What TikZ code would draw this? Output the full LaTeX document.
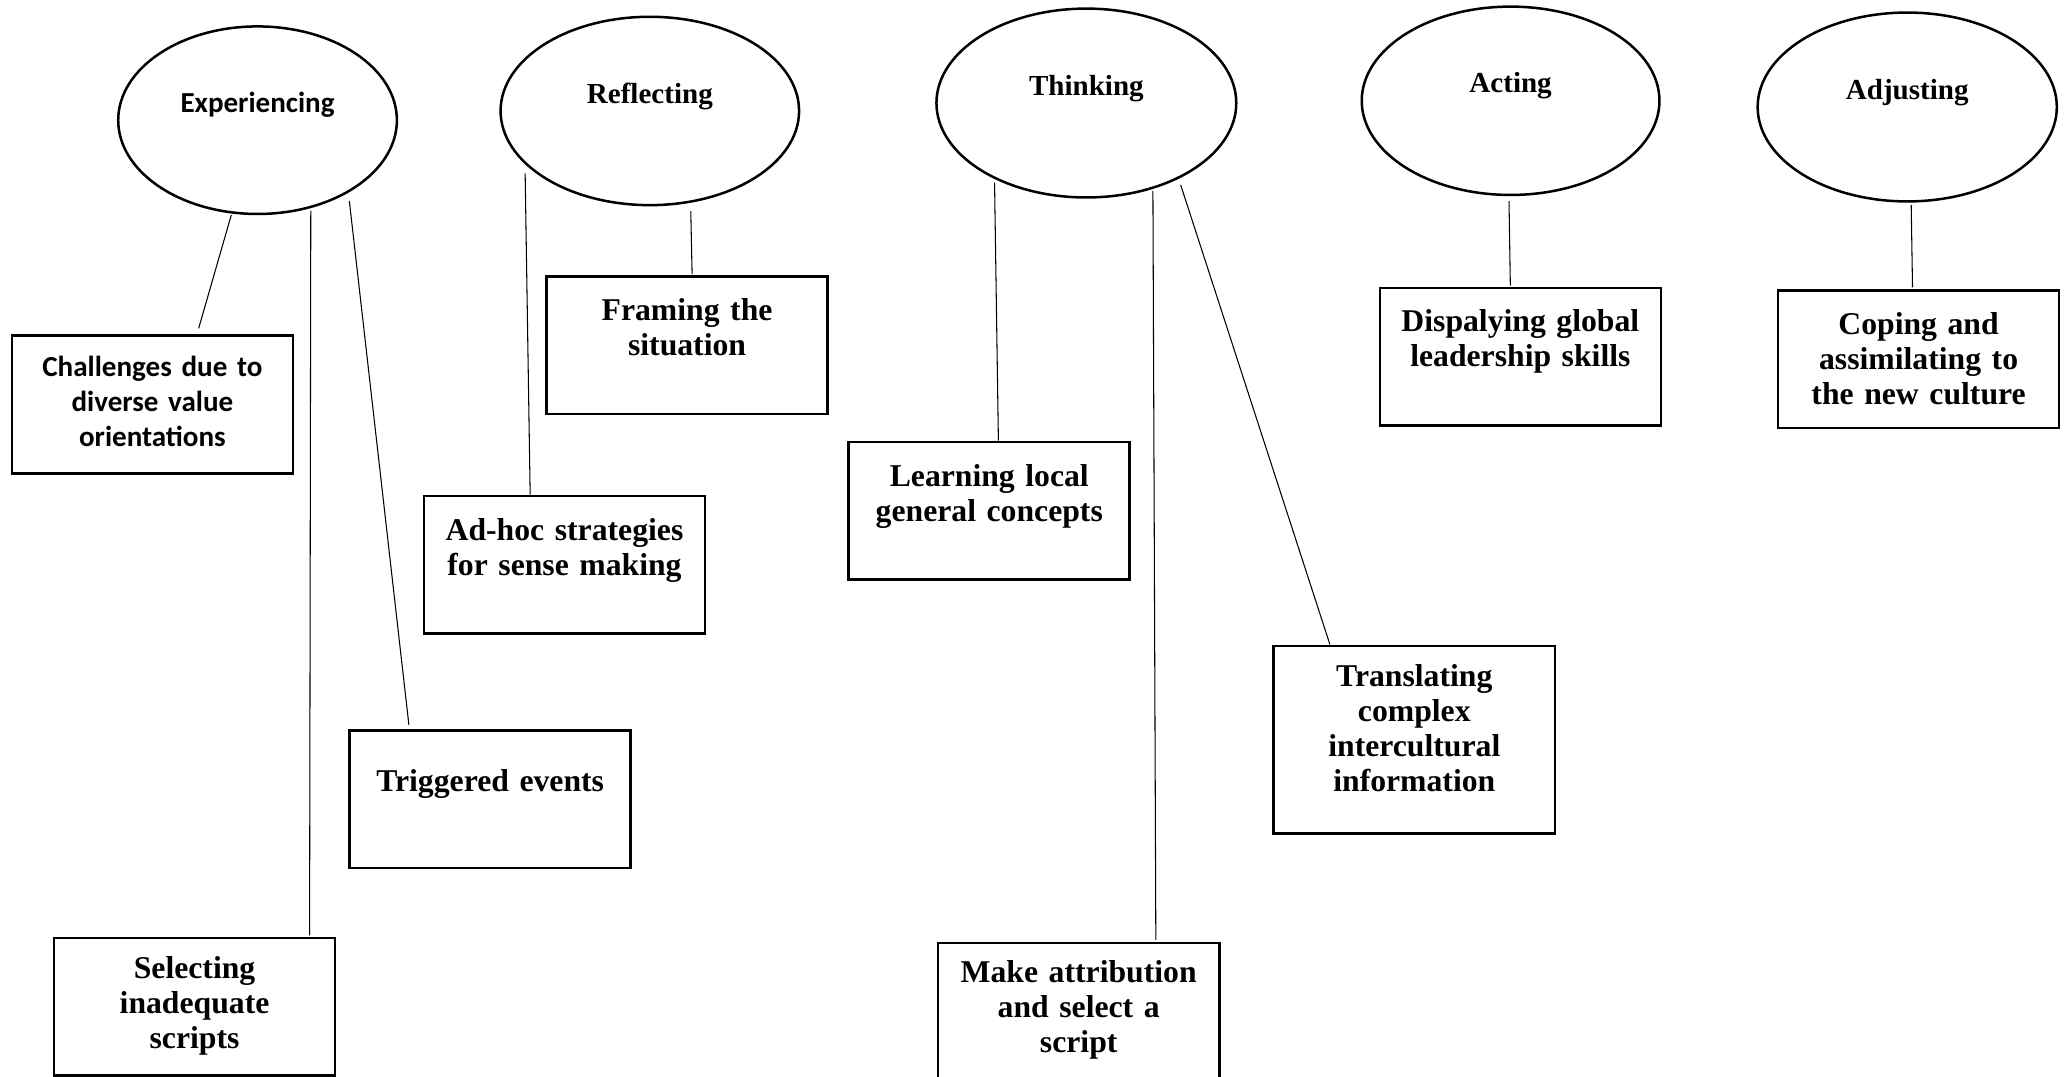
\documentclass[tikz,border=0pt]{standalone}
\usepackage{fontspec}
\setmainfont{Liberation Serif}
\newfontfamily\calib{Carlito}
\usetikzlibrary{shapes.geometric}
\begin{document}
\begin{tikzpicture}[x=1pt,y=-1pt,
  phase/.style={ellipse, draw, line width=1.9pt, inner sep=0pt,
    text height=8pt, text depth=20pt,
    font={\bfseries\fontsize{22}{26}\selectfont}},
  itembox/.style 2 args={draw, line width=2pt, inner sep=0pt,
    text width=212.8pt, align=center, anchor=north west,
    text height=#1, text depth=#2,
    font={\bfseries\fontsize{24}{26.6}\selectfont}},
  link/.style={line width=0.8pt}]
\useasboundingbox (0,0) rectangle (1568,815);
\fill[white] (0,0) rectangle (1568,815);

% phases
\node[phase, minimum width=211pt, minimum height=142pt,
      font={\calib\bfseries\fontsize{22}{26}\selectfont}] (exp) at (195,91) {Experiencing};
\node[phase, minimum width=226pt, minimum height=142.6pt] (ref) at (492,84) {Reflecting};
\node[phase, minimum width=227pt, minimum height=143pt] (thi) at (822.5,78) {Thinking};
\node[phase, minimum width=225.4pt, minimum height=142.6pt] (act) at (1143.7,76.3) {Acting};
\node[phase, minimum width=226.5pt, minimum height=143pt] (adj) at (1444,81) {Adjusting};

% boxes
\node[itembox={31pt}{73.2pt}, font={\calib\bfseries\fontsize{22}{26.5}\selectfont}] (chal) at (8,253.1)
  {Challenges due to\\diverse value\\orientations};
\node[itembox={33.3pt}{70.9pt}] (fram) at (412.8,208.2) {Framing the\\situation};
\node[itembox={33.5pt}{70.7pt}] (adhoc) at (320,374.5) {Ad-hoc strategies\\for sense making};
\node[itembox={46.6pt}{57.6pt}] (trig) at (263.7,552) {Triggered events};
\node[itembox={30.5pt}{73.7pt}] (sel) at (39.9,709.2) {Selecting\\inadequate\\scripts};
\node[itembox={33.4pt}{70.8pt}] (learn) at (641.6,333.6) {Learning local\\general concepts};
\node[itembox={29.5pt}{74.7pt}] (make) at (709.3,713) {Make attribution\\and select a\\script};
\node[itembox={30.5pt}{111.5pt}] (trans) at (963.4,488) {Translating\\complex\\intercultural\\information};
\node[itembox={33pt}{71.2pt}] (disp) at (1043.7,217) {Dispalying global\\leadership skills};
\node[itembox={33.4pt}{70.8pt}] (cop) at (1345.2,218.8) {Coping and\\assimilating to\\the new culture};

% connectors
\draw[link] ([shift={(-19.9,71.8)}]exp.center) -- ([shift={(35,-4.5)}]chal.north);
\draw[link] ([shift={(40.3,68.5)}]exp.center) -- ([shift={(87.1,-1)}]sel.north);
\draw[link] ([shift={(69.5,61.2)}]exp.center) -- ([shift={(-61.5,-3)}]trig.north);
\draw[link] ([shift={(31,75.8)}]ref.center) -- ([shift={(3.8,-0.7)}]fram.north);
\draw[link] ([shift={(-94.4,47.2)}]ref.center) -- ([shift={(-26,0)}]adhoc.north);
\draw[link] ([shift={(-69.5,60.3)}]thi.center) -- ([shift={(6.9,0)}]learn.north);
\draw[link] ([shift={(50.4,66.6)}]thi.center) -- ([shift={(58.4,-1.3)}]make.north);
\draw[link] ([shift={(71.4,62)}]thi.center) -- ([shift={(-63.9,0)}]trans.north);
\draw[link] ([shift={(-1.2,75.9)}]act.center) -- ([shift={(-7.6,-0.7)}]disp.north);
\draw[link] ([shift={(3,74.2)}]adj.center) -- ([shift={(-4.6,-1.3)}]cop.north);
\end{tikzpicture}
\end{document}
